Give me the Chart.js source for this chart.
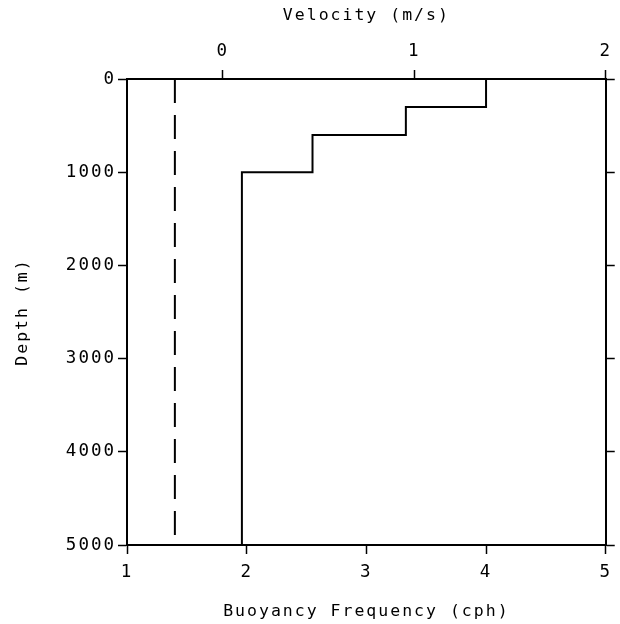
<!DOCTYPE html>
<html>
<head>
<meta charset="utf-8">
<script src="https://cdn.jsdelivr.net/npm/chart.js@4.4.0/dist/chart.umd.min.js"></script>
<style>
  html, body { margin: 0; padding: 0; background: #fff; }
  #wrap { width: 620px; height: 624px; }
  #myChart { letter-spacing: 2px; }
</style>
</head>
<body>
<div id="wrap"><canvas id="myChart"></canvas></div>
<script>
// buoyancy frequency layers (depth in m, N in cph)
var layerTop = [0, 300, 600, 1000];
var layerBottom = [300, 600, 1000, 5000];
var buoyancy = [4.0, 3.33, 2.55, 1.96];

// velocity profile (m/s)
var velDepth = [0, 5000];
var velocity = [-0.25, -0.25];

var depthTicks = [0, 1000, 2000, 3000, 4000, 5000];
var freqTicks = [1, 2, 3, 4, 5];
var velTicks = [0, 1, 2];

var nPoints = [];
for (var i = 0; i < buoyancy.length; i++) {
  nPoints.push({x: buoyancy[i], y: layerTop[i]});
  nPoints.push({x: buoyancy[i], y: layerBottom[i]});
}
var vPoints = velDepth.map(function(d, i){ return {x: velocity[i], y: d}; });

var FONT = "'DejaVu Sans Mono', monospace";
var tickFont = {family: FONT, size: 17.5};
var titleFont = {family: FONT, size: 16.5};

// plotter-like letter spacing on all text
var spacing = {
  id: 'spacing',
  beforeInit: function(chart){ chart.ctx.letterSpacing = '2px'; },
  beforeUpdate: function(chart){ chart.ctx.letterSpacing = '2px'; },
  beforeDraw: function(chart){ chart.ctx.letterSpacing = '2px'; }
};

function fixTicks(list){
  return function(scale){ scale.ticks = list.map(function(v){ return {value: v}; }); };
}
function plain(v){ return String(v); }

var axisGrid = {
  display: true, drawOnChartArea: false, drawTicks: true,
  tickLength: 9, tickWidth: 1.5, color: '#000'
};
var axisBorder = {display: true, color: '#000', width: 2};

var ctx = document.getElementById("myChart");
var myChart = new Chart(ctx, {
  type: 'line',
  plugins: [spacing],
  data: {
    datasets: [{
      label: 'Buoyancy Frequency',
      data: nPoints,
      xAxisID: 'x', yAxisID: 'y',
      borderColor: '#000', borderWidth: 2,
      pointRadius: 0, fill: false, tension: 0
    }, {
      label: 'Velocity',
      data: vPoints,
      xAxisID: 'x2', yAxisID: 'y',
      borderColor: '#000', borderWidth: 2, borderDash: [24, 12],
      pointRadius: 0, fill: false, tension: 0
    }]
  },
  options: {
    responsive: true,
    maintainAspectRatio: false,
    animation: false,
    layout: {padding: 0},
    plugins: {legend: {display: false}, tooltip: {enabled: false}},
    scales: {
      x: {
        type: 'linear', position: 'bottom', min: 1, max: 5,
        afterBuildTicks: fixTicks(freqTicks),
        afterFit: function(s){ s.height = 79; },
        grid: axisGrid, border: axisBorder,
        ticks: {color: '#000', font: tickFont, padding: 8, callback: plain},
        title: {display: true, text: 'Buoyancy Frequency (cph)', color: '#000', font: titleFont, padding: {top: 0, bottom: 2}}
      },
      x2: {
        type: 'linear', position: 'top', min: -0.5, max: 2,
        afterBuildTicks: fixTicks(velTicks),
        afterFit: function(s){ s.height = 79; },
        grid: axisGrid, border: axisBorder,
        ticks: {color: '#000', font: tickFont, padding: 8, callback: plain},
        title: {display: true, text: 'Velocity (m/s)', color: '#000', font: titleFont, padding: {top: 6, bottom: 0}}
      },
      y: {
        type: 'linear', position: 'left', min: 0, max: 5000, reverse: true,
        afterBuildTicks: fixTicks(depthTicks),
        afterFit: function(s){ s.width = 127; },
        grid: axisGrid, border: axisBorder,
        ticks: {color: '#000', font: tickFont, padding: 2, callback: plain},
        title: {display: true, text: 'Depth (m)', color: '#000', font: titleFont, padding: {top: 13, bottom: 0}}
      },
      y2: {
        type: 'linear', position: 'right', min: 0, max: 5000, reverse: true,
        afterBuildTicks: fixTicks(depthTicks),
        afterFit: function(s){ s.width = 14; },
        grid: axisGrid, border: axisBorder,
        ticks: {display: false}
      }
    }
  }
});
</script>
</body>
</html>
